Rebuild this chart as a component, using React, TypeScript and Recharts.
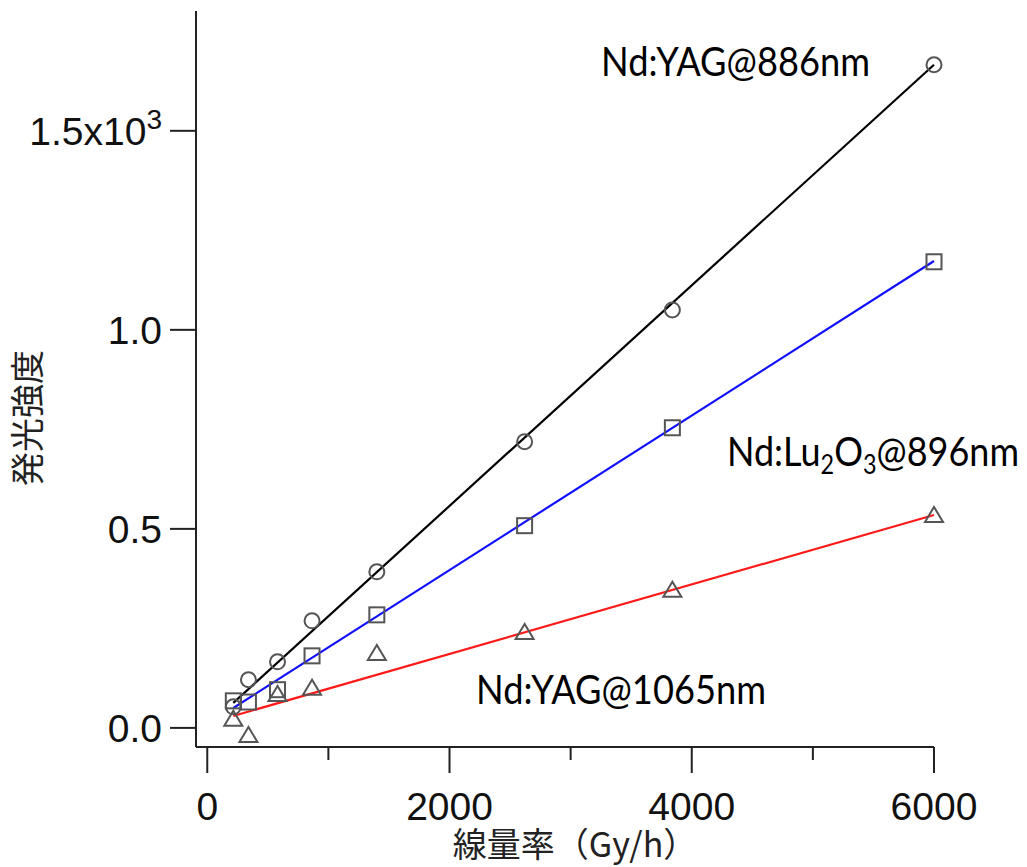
import React from "react";
import { ComposedChart, Scatter, XAxis, YAxis } from "recharts";

// Dose rate (Gy/h)
const doseRates = [215, 340, 580, 865, 1400, 2620, 3840, 6000];
// Luminescence intensity (raw units, axis shown in x10^3)
const yag886 = [53, 121, 166, 269, 392, 719, 1050, 1666];
const lu2o3_896 = [68, 65, 96, 181, 284, 508, 754, 1171];
const yag1065 = [23, -18, 85, 101, 188, 241, 347, 535];
// Linear fit end points
const fitDose = [215, 6000];
const fit886 = [63, 1666];
const fit896 = [50, 1173];
const fit1065 = [30, 535];

const xTicks = [0, 1000, 2000, 3000, 4000, 5000, 6000];
const yTicks = [0, 500, 1000, 1500];

const toPts = (xs: number[], ys: number[]) => xs.map((x, i) => ({ x, y: ys[i] }));

const W = 1027;
const H = 867;
const MARK = "#555555";
const AXIS = "#222222";

const Circle = (p: any) => (
  <circle cx={p.cx} cy={p.cy} r={7.5} fill="none" stroke={MARK} strokeWidth={2} />
);
const Square = (p: any) => (
  <rect x={p.cx - 7.5} y={p.cy - 7.5} width={15} height={15} fill="none" stroke={MARK} strokeWidth={2} />
);
const Triangle = (p: any) => (
  <polygon
    points={`${p.cx},${p.cy - 8} ${p.cx - 9},${p.cy + 7} ${p.cx + 9},${p.cy + 7}`}
    fill="none"
    stroke={MARK}
    strokeWidth={2}
    strokeLinejoin="miter"
  />
);
const NoShape = () => <g />;

const XTick = (p: any) => {
  const v = p.payload.value;
  const major = v % 2000 === 0;
  return (
    <g>
      <line x1={p.x} x2={p.x} y1={p.y} y2={p.y + (major ? 26 : 13)} stroke={AXIS} strokeWidth={2} />
      {major && (
        <text x={p.x} y={p.y + 73} textAnchor="middle" fontFamily="Liberation Sans" fontSize={39} fill="#111">
          {v}
        </text>
      )}
    </g>
  );
};

const YTick = (p: any) => {
  const v = p.payload.value;
  const main = (v / 1000).toFixed(1);
  return (
    <g>
      <line x1={p.x - 26} x2={p.x} y1={p.y} y2={p.y} stroke={AXIS} strokeWidth={2} />
      <text x={p.x - 34} y={p.y + 14} textAnchor="end" fontFamily="Liberation Sans" fontSize={39} fill="#111">
        {v === 1500 ? (
          <>
            <tspan>{main + "x10"}</tspan>
            <tspan fontSize={28} dy={-16}>3</tspan>
          </>
        ) : (
          main
        )}
      </text>
    </g>
  );
};

export default function App() {
  return (
    <div style={{ position: "absolute", left: 0, top: 0, width: W, height: H, background: "#fff" }}>
      <ComposedChart width={W} height={H} margin={{ top: 11, right: 93, bottom: 0, left: 0 }}>
        <XAxis
          type="number"
          dataKey="x"
          domain={[-93, 6000]}
          ticks={xTicks}
          interval={0}
          tickSize={0}
          tickMargin={0}
          tickLine={false}
          tick={<XTick />}
          axisLine={{ stroke: AXIS, strokeWidth: 2 }}
          height={120}
        />
        <YAxis
          type="number"
          dataKey="y"
          domain={[-48, 1801]}
          ticks={yTicks}
          interval={0}
          tickSize={0}
          tickMargin={0}
          tickLine={false}
          tick={<YTick />}
          axisLine={{ stroke: AXIS, strokeWidth: 2 }}
          width={196}
        />
        <Scatter data={toPts(fitDose, fit886)} line={{ stroke: "#000000", strokeWidth: 2.2 }} shape={<NoShape />} isAnimationActive={false} />
        <Scatter data={toPts(fitDose, fit896)} line={{ stroke: "#1010ff", strokeWidth: 2.2 }} shape={<NoShape />} isAnimationActive={false} />
        <Scatter data={toPts(fitDose, fit1065)} line={{ stroke: "#ff1a1a", strokeWidth: 2.2 }} shape={<NoShape />} isAnimationActive={false} />
        <Scatter data={toPts(doseRates, yag886)} shape={<Circle />} isAnimationActive={false} />
        <Scatter data={toPts(doseRates, lu2o3_896)} shape={<Square />} isAnimationActive={false} />
        <Scatter data={toPts(doseRates, yag1065)} shape={<Triangle />} isAnimationActive={false} />
      </ComposedChart>
      <svg width={W} height={H} style={{ position: "absolute", left: 0, top: 0, pointerEvents: "none" }}>
        <text x={601} y={76} fontFamily="Lato" fontSize={40} fill="#000" textLength={269} lengthAdjust="spacingAndGlyphs">
          Nd:YAG@886nm
        </text>
        <text x={727} y={466} fontFamily="Lato" fontSize={40} fill="#000" textLength={292} lengthAdjust="spacingAndGlyphs">
          Nd:Lu<tspan fontSize={26} dy={8}>2</tspan><tspan dy={-8}>O</tspan><tspan fontSize={26} dy={8}>3</tspan><tspan dy={-8}>@896nm</tspan>
        </text>
        <text x={476} y={704} fontFamily="Lato" fontSize={40} fill="#000" textLength={290} lengthAdjust="spacingAndGlyphs">
          Nd:YAG@1065nm
        </text>
        <text x={575} y={857} textAnchor="middle" fontFamily="Noto Sans CJK JP" fontSize={34} fill="#222">
          線量率（Gy/h）
        </text>
        <text
          x={0}
          y={0}
          transform="translate(40,418) rotate(-90)"
          textAnchor="middle"
          fontFamily="Noto Sans CJK JP"
          fontSize={34}
          fill="#222"
        >
          発光強度
        </text>
      </svg>
    </div>
  );
}
